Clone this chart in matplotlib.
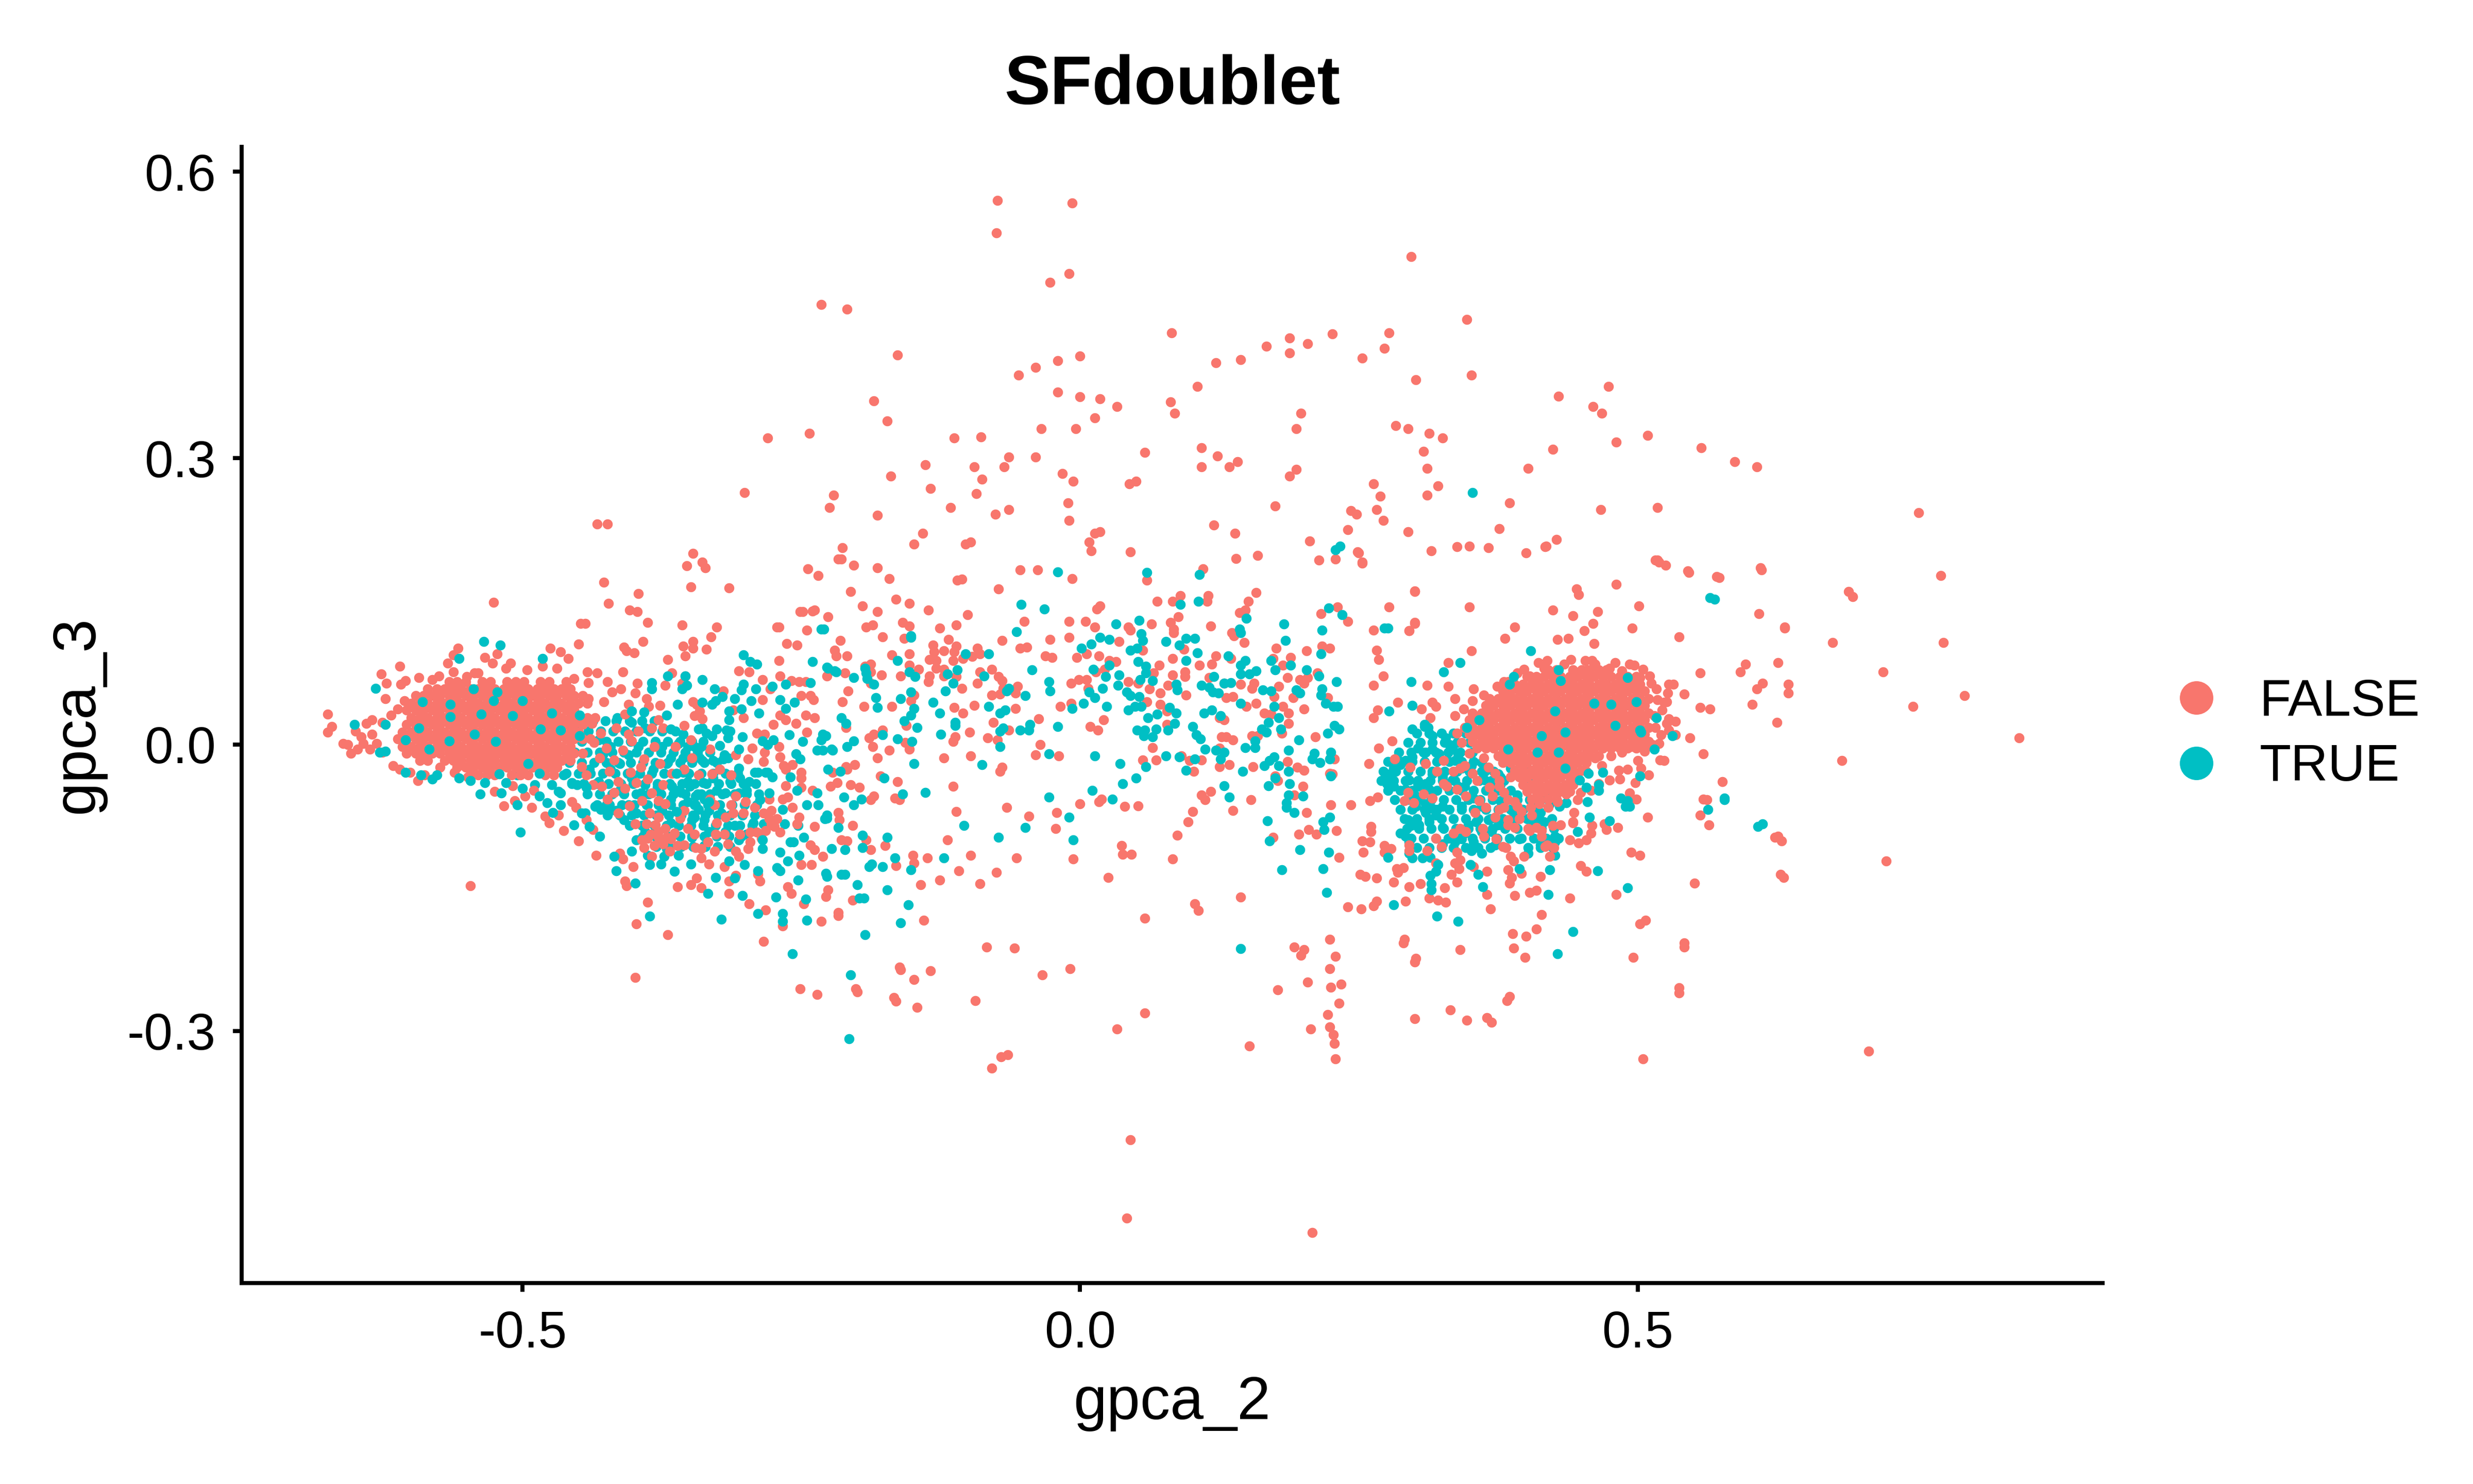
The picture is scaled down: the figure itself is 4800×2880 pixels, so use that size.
import matplotlib
matplotlib.use('Agg')
import matplotlib.pyplot as plt
from matplotlib.lines import Line2D

plt.rcParams['font.family'] = ['Liberation Sans', 'DejaVu Sans']
plt.rcParams['axes.unicode_minus'] = False

# colours and labels
false_color = '#F8766D'
true_color = '#00BFC4'
title = 'SFdoublet'
x_label = 'gpca_2'
y_label = 'gpca_3'
x_ticks = [-0.5, 0.0, 0.5]
y_ticks = [-0.3, 0.0, 0.3, 0.6]
legend_labels = ['FALSE', 'TRUE']

# --- points ---
# sparse FALSE points above the main band
false_upper = [(-.074,.570),(-.007,.567),(-.075,.536),(.297,.511),(-.027,.484),(-.010,.493),(-.232,.461),(-.209,.456),
    (.347,.445),(.082,.431),(.226,.430),(.277,.431),(.167,.417),(.188,.426),(.188,.410),(.204,.420),(-.164,.408),(0,.407),
    (-.020,.402),(.253,.405),(.122,.400),(.144,.403),(.273,.415),(-.040,.395),(-.055,.387),(.351,.387),(.105,.375),(.301,.382),
    (-.020,.369),(0,.364),(.018,.362),(.033,.354),(.081,.359),(.085,.347),(-.185,.360),(-.173,.339),(.198,.347),(.194,.331),
    (.429,.365),(.474,.375),(.460,.354),(.468,.347),(-.280,.321),(-.243,.326),(-.113,.321),(-.089,.322),(.013,.342),(-.004,.331),
    (-.035,.331),(.283,.334),(.294,.331),(.313,.326),(.325,.321),(.509,.324),(.481,.317),(.424,.309),(.557,.311),(.587,.296),
    (.607,.291),(-.064,.301),(-.095,.291),(-.139,.293),(-.040,.301),(.058,.306),(.109,.311),(.123,.302),(.134,.291),(.109,.291),
    (.141,.296),(.194,.288),(.188,.281),(.308,.307),(.311,.289),(.402,.289),(-.170,.281),(-.134,.268),(-.088,.278),(-.068,.291),
    (-.016,.284),(-.006,.276),(.044,.273),(.050,.276),(.263,.273),(.269,.260),(.311,.261),(.321,.271),(-.301,.264),(-.221,.261),
    (-.225,.248),(-.093,.263),(-.064,.246),(-.076,.241),(-.116,.248),(-.011,.253),(-.010,.235),(.175,.250),(.243,.245),(.266,.246),
    (.272,.235),(.385,.253),(.467,.246),(.518,.248),(.752,.243),(-.433,.231),(-.424,.231),(-.141,.221),(-.182,.240),(-.098,.212),
    (.013,.221),(.018,.223),(.008,.212),(.120,.230),(.139,.221),(.248,.241),(.240,.225),(.376,.226),(.427,.215),(.294,.223),
    (.315,.203),(.349,.208),(.417,.207),(.611,.183),(.518,.193),(.525,.188),(.772,.177),(.546,.180),(.573,.175),(.693,.155),(.689,.160)]

# band between y 0.12 and 0.21
false_high_band = [(-.213,.206),(-.217,.194),(-.214,.194),(-.203,.188),(-.182,.185),(-.244,.184),(-.235,.177),(-.171,.174),
    (-.206,.160),(-.149,.210),(-.103,.210),(.010,.203),(.045,.202),(.140,.195),(.159,.198),(.206,.213),(.249,.202),(.253,.191),
    (.214,.193),(.229,.194),(-.054,.183),(-.038,.183),(-.007,.174),(-.110,.172),(-.106,.173),(-.073,.163),(.060,.172),(.110,.184),
    (.115,.156),(.114,.150),(.090,.156),(.083,.150),(.069,.150),(.158,.159),(.151,.150),(.300,.161),(.277,.144),(.231,.144),
    (.148,.141),(.143,.138),(.088,.134),(.018,.145),(.015,.142),(-.101,.136),(-.136,.141),(-.153,.148),(-.165,.152),(-.182,.139),
    (-.195,.145),(-.238,.141),(-.249,.139),(-.226,.134),(.216,.137),(.240,.129),(.300,.128),(.295,.119),(.263,.120),(-.270,.123),
    (-.245,.120),(-.192,.123),(-.186,.125),(-.159,.128),(-.153,.124),(-.126,.122),(-.111,.125),(-.050,.129),(-.010,.129),(.005,.129),
    (.013,.123),(.043,.123),(.045,.120),(.064,.126),(.081,.128),(.084,.121),(.084,.117),(.117,.124),(.136,.117),
    (-.347,.200),(-.339,.191),(-.353,.187),(-.336,.185),(-.427,.170),(-.349,.165),(-.315,.164),(-.396,.158),(-.423,.148),(-.526,.149),
    (-.404,.141),(-.397,.139),(-.251,.139),(-.240,.140),(-.388,.128),(-.448,.127),(-.444,.127),(-.357,.125),(-.326,.123),(-.272,.123),
    (-.331,.113),(-.392,.108),(-.347,.108),(-.263,.106),(-.254,.104),(-.450,.105),(-.356,.103),(-.347,.101),(-.335,.100),(-.409,.102),
    (-.407,.098),(-.400,.096),(-.475,.101),(-.466,.097),(-.459,.090),(-.354,.093),(-.370,.089),(-.270,.088),(-.558,.101),(-.562,.094),
    (-.523,.095),(-.534,.091),(-.567,.085),(-.527,.085),(-.610,.082),(-.627,.074),(-.622,.064),(-.623,.048),(-.306,.077),(-.297,.076),
    (-.410,.076),(-.366,.075),(-.354,.072),(-.285,.068),(-.269,.072),(-.259,.067),(-.252,.066),(-.246,.066),(-.397,.064),(-.372,.062),
    (-.357,.064),(-.320,.056),(-.278,.058),(-.399,.054),(-.250,.051),(-.242,.051),(-.239,.047),(-.285,.047),(-.377,.041),(-.347,.045),
    (-.344,.042),(-.341,.035),(-.311,.036),(-.302,.028),(-.346,.030),(-.339,.027),(-.246,.031),(-.238,.028),(-.269,.031),(-.264,.026),
    (-.275,.021),(-.255,.022),(-.245,.013),(-.290,.012),(-.283,.011),(-.355,.020),(-.270,-.002),(-.294,-.004),(-.269,-.013),(-.283,-.008),
    (-.284,-.018),(-.309,-.011),(-.298,-.015),(-.266,-.022),(-.258,-.021),(-.264,-.026),(-.250,-.029),(-.250,-.035),(-.264,-.043),(-.250,-.045),
    (-.267,-.057),(-.262,-.055),(-.240,-.048),(-.258,-.066),(-.252,-.076),(-.254,-.083),(-.238,-.086),(-.242,-.105),(-.238,-.110),(-.231,-.117),
    (-.250,-.126),(-.241,-.126),(-.262,-.149),(-.259,-.156),(-.248,-.167),(-.217,-.176),(-.232,-.185),(-.267,-.190),(-.282,-.173),(-.297,-.167),
    (-.315,-.156),(-.340,-.150),(-.349,-.147),(-.344,-.140),(-.361,-.149),(-.287,-.143),(-.289,-.136),(-.315,-.143),(-.319,-.128),(-.309,-.137),
    (-.333,-.125),(-.401,-.128),(-.408,-.143),(-.407,-.148),(-.434,-.116),(-.413,-.114),(-.410,-.120),(-.450,-.101),(-.463,-.090),(-.476,-.082),
    (-.480,-.075),(-.468,-.074),(-.492,-.066),(-.517,-.064),(-.547,-.148),(-.388,-.165),(-.398,-.188),(-.370,-.199),(-.284,-.206),(-.399,-.244),
    (-.251,-.256)]

# edge of the left blob and pink inside the teal part
false_left_edge = [(-.675,.032),(-.671,.019),(-.675,.013),(-.661,.001),(-.657,.000),(-.654,-.009),(-.648,-.005),(-.643,.001),(-.637,-.005),(-.631,.001),
    (-.650,.014),(-.645,.008),(-.635,.011),(-.640,.022),(-.635,.026),(-.626,.023),(-.618,.031),(-.612,.037),(-.606,.046),(-.609,.063),
    (-.605,.067),(-.593,.070),(-.581,.068),(-.575,.072),(-.562,.076),(-.550,.071),(-.543,.075),(-.540,.075),(-.511,.085),(-.515,.080),
    (-.496,.078),(-.482,.082),(-.469,.080),(-.442,.076),(-.433,.075),(-.454,.069),(-.441,.065),(-.424,.066),(-.420,.055),(-.412,.058),
    (-.427,.045),(-.441,.048),(-.405,.042),(-.389,.048),(-.387,.040),(-.408,.032),(-.378,.026),(-.384,.017),(-.405,.011),(-.416,.017),
    (-.626,-.008),(-.616,-.022),(-.610,-.026),(-.601,-.029),(-.594,-.038),(-.588,-.032),(-.561,-.029),(-.549,-.034),(-.525,-.049),(-.509,-.043),
    (-.507,-.059),(-.498,-.054),(-.490,-.048),(-.456,-.060),(-.452,-.066),(-.443,-.079),(-.437,-.089),
    (-.447,-.023),(-.443,-.032),(-.437,-.042),(-.424,-.057),(-.414,-.039),(-.403,-.029),(-.391,-.015),(-.382,-.002),(-.374,.017),(-.363,-.002),
    (-.349,.005),(-.348,-.014),(-.332,-.005),(-.323,-.026),(-.313,-.032),(-.330,-.031),(-.342,-.032),(-.355,-.026),(-.374,-.042),(-.384,-.051),
    (-.393,-.059),(-.378,-.059),(-.372,-.062),(-.355,-.069),(-.359,-.077),(-.378,-.076),(-.389,-.083),(-.399,-.083),(-.378,-.091),(-.393,-.100),
    (-.391,-.108),(-.378,-.097),(-.367,-.099),(-.361,-.106),(-.355,-.105),(-.346,-.094),(-.327,-.094),(-.319,-.094),(-.328,-.112),(-.340,-.119),
    (-.368,-.112),(-.384,-.117),(-.340,-.109),(-.313,-.063),(-.302,-.072),(-.296,-.092),(-.290,-.092),(-.277,-.069),(-.277,-.083),(-.298,-.109),
    (-.309,-.112),(-.306,-.117),(-.328,-.063),(-.332,-.057),(-.311,-.072),(-.279,-.057),(-.269,-.092),
    # more pink in the dense tail
    (-.438,.022),(-.430,.012),(-.436,.002),(-.425,-.004),(-.431,-.014),(-.418,-.016),(-.422,-.028),(-.410,-.006),(-.402,.004),(-.396,.014),
    (-.394,-.024),(-.408,-.046),(-.398,-.040),(-.418,-.050),(-.429,-.044),(-.404,-.064),(-.414,-.072),(-.388,-.036),(-.377,-.020),(-.366,-.030),
    (-.386,-.072),(-.381,-.084),(-.372,-.088),(-.385,-.094),(-.374,-.104),(-.382,-.106),(-.388,-.098),(-.371,-.097),(-.364,-.093),(-.352,-.088),
    (-.345,-.108),(-.334,-.102),(-.326,-.082),(-.318,-.076),(-.309,-.054),(-.300,-.060),(-.292,-.066),(-.284,-.072),(-.279,-.078),(-.274,-.086),
    (-.282,-.090),(-.272,-.078),(-.286,-.098),(-.296,-.102),(-.305,-.094),(-.316,-.104)]

# centre band, left to right
false_center = [(-.215,.109),(-.177,.113),(-.158,.111),(-.132,.104),(-.118,.110),(-.111,.103),(-.070,.109),(-.054,.101),(-.048,.102),(-.027,.110),
    (-.010,.112),(.035,.108),(.056,.099),(.093,.100),(.138,.114),(.147,.107),(.176,.101),(.203,.098),(.217,.103),(.224,.101),(-.220,.099),(-.219,.093),
    (-.209,.093),(-.169,.094),(-.153,.095),(-.131,.097),(-.122,.098),(-.113,.097),(-.129,.088),(-.135,.089),(-.114,.088),(-.105,.090),(-.097,.092),
    (-.092,.101),(-.090,.095),(-.031,.093),(-.025,.091),(-.003,.091),(.006,.095),(.017,.093),(.026,.088),(.032,.087),(.083,.090),(.071,.083),(.107,.083),
    (.118,.084),(.122,.093),(.135,.090),(.182,.083),(.189,.091),(.173,.090),(-.145,.079),(-.153,.083),(-.161,.072),(-.178,.073),(-.188,.084),(-.193,.082),
    (-.188,.076),(-.211,.075),(-.227,.072),(-.129,.080),(-.135,.072),(-.122,.072),(-.111,.071),(-.122,.079),(-.136,.066),(-.079,.079),(-.090,.076),
    (-.073,.071),(-.070,.067),(-.092,.064),(-.106,.059),(-.056,.061),(-.058,.054),(-.079,.052),(-.072,.053),(-.069,.059),(-.208,.056),(-.213,.045),
    (-.194,.040),(-.169,.040),(-.152,.046),(-.149,.052),(-.188,.064),(-.113,.039),(-.105,.033),(-.095,.041),(-.058,.038),(-.078,.023),(-.037,.027),
    (-.018,.040),(-.008,.043),(-.008,.064),(-.001,.068),(.006,.068),(.007,.059),(.014,.076),(.022,.079),(.043,.066),(.052,.064),(.062,.058),(.060,.045),
    (.066,.075),(.079,.062),(.083,.073),(.072,.054),(.072,.042),(.078,.035),(.094,.076),(.094,.071),(.095,.052),(.078,.021),(.021,.026),(.009,.019),
    (.016,.015),(.116,.070),(.129,.064),(.131,.049),(.137,.050),(.144,.063),(.154,.059),(.156,.064),(.158,.043),(.149,.040),(.125,.028),(.129,.026),
    (.165,.033),(.171,.032),(.174,.050),(.178,.061),(.186,.070),(.197,.068),(.201,.064),(.204,.070),(.191,.049),(.182,.040),(.187,.033),(.201,.037),
    (.187,.022),(.213,.075),(.222,.049),(.211,.008),(.181,.012),(.154,.009),(.159,.009),(.127,.008),(.131,.008),(.137,.005),(.125,-.004),(.065,-.003),
    (.056,-.016),(.068,-.016),(.091,-.012),(.098,-.017),(.109,-.016),(.102,-.028),(.125,-.023),(.134,-.021),(.155,-.023),(.186,-.018),(.195,-.024),
    (.201,-.027),(.228,-.015),(.224,-.030),(.226,-.031),(.175,-.033),(.177,-.038),(.200,-.044),(.192,-.053),(.153,-.058),(.109,-.053),(.117,-.049),
    (.112,-.058),(.137,-.069),(.101,-.070),(.097,-.081),(.087,-.095),(.203,-.071),(.225,-.063),(.205,-.089),(.196,-.094),(.212,-.094),(.230,-.090),
    (.173,-.097),(.232,-.118),(.083,-.120),(.052,-.064),(.040,-.065),(.019,-.057),(.017,-.060),(0,-.062),(-.021,-.071),(-.022,-.088),(-.046,-.075),
    (-.066,-.066),(-.111,-.070),(-.114,-.044),(-.162,-.058),(-.166,-.056),(-.185,-.054),(-.188,-.058),(-.164,-.039),(-.179,-.033),(-.198,-.045),
    (-.206,-.042),(-.218,-.040),(-.224,-.044),(-.202,-.021),(-.210,-.023),(-.209,-.026),(-.222,-.029),(-.182,-.014),(-.171,-.006),(-.186,-.002),
    (-.189,.007),(-.185,.011),(-.177,.015),(-.210,.018),(-.157,.002),(-.153,-.005),(-.122,-.014),(-.098,-.012),(-.072,-.028),(-.070,-.024),(-.040,-.011),
    (-.036,0),(-.019,-.012),(-.064,.015),(-.074,.005),(-.083,.007),(-.099,.013),(-.112,.008),(-.114,.003),(-.156,.020),(-.217,-.071),(-.216,-.079),
    (-.204,-.085),(-.214,-.100),(-.209,-.101),(-.192,-.100),(-.188,-.110),(-.175,-.106),(-.150,-.116),(-.149,-.124),(-.165,-.127),(-.137,-.119),
    (-.119,-.100),(-.098,-.116),(-.109,-.132),(-.126,-.142),(-.143,-.147),(-.090,-.146),(-.075,-.134),(-.057,-.119),(-.006,-.120),(.037,-.106),(.038,-.115),
    (.046,-.115),(.025,-.139),(.144,-.160),(.103,-.167),(.106,-.174),(.058,-.182),(-.226,-.152),(-.228,-.159),(-.204,-.163),(-.217,-.179),(-.140,-.184)]

# lower sparse points
false_lower = [(-.084,-.212),(-.059,-.213),(-.034,-.241),(-.009,-.235),(.192,-.212),(.201,-.215),(.198,-.221),(.224,-.204),(.229,-.222),(.224,-.235),
    (.290,-.208),(.300,-.228),(.204,-.249),(.177,-.257),(.225,-.254),(.234,-.251),(.232,-.271),(.222,-.283),(.207,-.298),(.224,-.296),(.227,-.304),
    (.228,-.313),(.229,-.329),(.152,-.316),(.300,-.287),(.058,-.281),(.033,-.298),(-.065,-.325),(-.071,-.327),(-.079,-.339),(.045,-.414),(.042,-.496),
    (.208,-.511),(-.161,-.236),(-.134,-.237),(-.149,-.246),(-.200,-.259),(-.165,-.269),(-.146,-.275),(-.094,-.268),(-.201,-.256),(-.167,-.265),
    (.332,-.278),(.347,-.289),(.365,-.286),(.369,-.291),(.383,-.268),(.707,-.321),(.505,-.329),(-.162,-.233),(-.236,-.262)]

# right side, around the right blob
false_right = [(.250,.201),(.253,.190),(.338,.207),(.366,.206),(.400,.201),(.418,.208),(.516,.193),(.519,.191),(.545,.182),(.571,.176),(.610,.185),
    (.300,.160),(.481,.168),(.445,.163),(.447,.157),(.349,.144),(.424,.141),(.442,.135),(.464,.139),(.501,.145),(.609,.137),(.300,.127),(.295,.119),
    (.460,.127),(.390,.123),(.452,.119),(.495,.122),(.632,.123),(.537,.113),(.381,.111),(.428,.110),(.438,.111),(.461,.106),(.351,.098),(.266,.099),
    (.268,.089),(.330,.086),(.626,.086),(.592,.076),(.556,.075),(.411,.086),(.419,.088),(.440,.089),(.453,.088),(.459,.088),(.493,.084),(.272,.072),
    (.263,.062),(.311,.062),(.330,.061),(.353,.058),(.607,.058),(.635,.054),(.542,.053),(.528,.063),(.532,.063),(.527,.054),(.526,.045),(.603,.042),
    (.556,.039),(.565,.037),(.336,.048),(.285,.044),(.316,.044),(.319,.040),(.306,.037),(.267,.036),(.263,.028),(.625,.023),(.534,.024),(.528,.027),
    (.534,.010),(.547,.007),(.519,.001),(.314,.028),(.280,.004),(.268,-.004),(.559,-.010),(.520,-.016),(.524,-.017),(.259,-.020),(.296,-.024),(.282,-.015),
    (.576,-.039),(.498,-.040),(.559,-.057),(.493,-.051),(.499,-.057),(.243,-.063),(.260,-.059),(.267,-.055),(.509,-.076),(.564,-.084),(.261,-.091),
    (.261,-.086),(.253,-.101),(.260,-.102),(.254,-.113),(.273,-.106),(.279,-.109),(.273,-.113),(.470,-.083),(.472,-.089),(.482,-.087),(.459,-.085),
    (.458,-.093),(.439,-.100),(.447,-.103),(.454,-.100),(.442,-.082),(.494,-.113),(.502,-.116),(.623,-.097),(.626,-.096),(.628,-.136),(.551,-.145),
    (.449,-.127),(.454,-.133),(.421,-.117),(.419,-.105),(.413,-.138),(.409,-.153),(.403,-.155),(.439,-.161),(.390,-.158),(.365,-.157),(.385,-.145),
    (.387,-.139),(.384,-.131),(.386,-.117),(.389,-.122),(.398,-.117),(.396,-.135),(.365,-.133),(.340,-.130),(.333,-.136),(.338,-.144),(.353,-.128),
    (.327,-.150),(.305,-.146),(.295,-.149),(.281,-.144),(.284,-.130),(.290,-.129),(.285,-.134),(.266,-.140),(.251,-.136),(.256,-.138),(.292,-.164),
    (.313,-.161),(.321,-.163),(.328,-.165),(.263,-.169),(.266,-.164),(.240,-.170),(.252,-.172),(.368,-.172),(.414,-.178),(.507,-.184),(.409,-.193),
    (.388,-.198),(.400,-.201),(.291,-.204),(.542,-.208),(.341,-.215),(.389,-.213),(.301,-.224),(.399,-.223),(.537,-.255),(.385,-.264),
    (.842,.007),(.793,.051),(.774,.107),(.747,.040),(.720,.076),(.675,.107),(.632,.122),(.597,.084),(.612,.064),(.635,.063),(.683,-.017),(.723,-.122),
    (.629,-.101),(.631,-.139),(.542,-.212),(.537,-.260),(.502,-.188),(.496,-.223),(.481,-.157),(.562,-.058),(.556,-.074),
    (.518,.047),(.524,.044),(.512,.064),(.516,.018),(.521,.010),(.528,.015),(.513,0),(.506,-.007),(.500,-.017),(.503,-.025),(.510,-.032),(.484,-.036),
    (.491,-.026),(.483,-.027),(.475,-.037),(.465,-.041),(.449,-.050),(.443,-.071),(.442,-.081),(.431,-.084),(.424,-.085),(.409,-.087),(.403,-.090),
    (.390,-.087),(.384,-.084),(.382,.043),(.368,.044),(.380,.066),(.384,.066),(.384,.053),(.403,.072),(.412,.069),(.425,.076),(.442,.077),(.455,.078),
    (.475,.080),(.486,.077),(.502,.070),
    (.326,-.041),(.338,-.047),(.346,-.054),(.358,-.059),(.367,-.045),(.376,-.044),(.294,-.050),(.299,-.061),(.291,-.059),(.329,-.044),(.341,-.025),
    (.345,-.022),(.335,-.028),(.326,-.017),(.341,-.088),(.335,-.093),(.346,-.091),(.361,-.088),(.354,-.071),(.376,-.068),(.384,-.079),(.392,-.065),
    (.402,-.088),(.405,-.074),(.414,-.090),(.373,-.099),(.379,-.107),(.324,-.107),(.319,-.098),(.311,-.111),(.295,-.105),(.295,-.111),(.338,-.113),
    (.336,-.124),(.341,-.121),(.319,-.124),(.382,-.108),(.417,-.107),(.425,-.108),(.414,-.096),(.362,-.096),
    # fringe of the blob and pink over the teal part
    (.517,.058),(.522,.036),(.515,.030),(.526,.022),(.511,.072),(.505,.079),(.497,.083),(.480,.086),(.462,.084),(.434,.084),(.416,.080),(.398,.079),
    (.392,.075),(.374,.061),(.362,.052),(.352,.046),(.344,.037),(.336,.030),(.338,.012),(.342,.002),(.349,-.009),(.362,-.014),(.366,-.024),(.372,-.030),
    (.376,-.038),(.380,-.050),(.384,-.058),(.390,-.060),(.396,-.070),(.404,-.066),(.412,-.062),(.420,-.066),(.428,-.060),(.436,-.052),(.446,-.058),
    (.458,-.048),(.468,-.022),(.476,-.012),(.486,-.008),(.494,-.002),(.462,-.014),(.454,-.028),(.370,-.054),(.364,-.066),(.372,-.076),(.394,-.078),
    (.380,-.066),(.356,-.038),(.352,-.030),(.320,-.028),(.310,-.020),(.316,-.056),(.308,-.052)]

# FALSE blob on the left, one row of x values per y value
left_blob_y = [.066, .058, .051, .043, .036, .028, .021, .013, .006, -.002, -.009, -.017, -.024, -.032]
left_blob_x = [
    [-.566,-.559,-.551,-.536,-.529,-.514,-.506,-.499,-.484,-.476,-.461],
    [-.585,-.577,-.570,-.562,-.555,-.547,-.540,-.532,-.525,-.517,-.510,-.502,-.495,-.487,-.480,-.472,-.465,-.457],
    [-.596,-.589,-.581,-.574,-.566,-.559,-.551,-.544,-.536,-.529,-.521,-.514,-.506,-.499,-.491,-.484,-.476,-.469,-.461,-.454,-.446],
    [-.600,-.592,-.585,-.577,-.570,-.562,-.555,-.547,-.540,-.532,-.525,-.517,-.510,-.502,-.495,-.487,-.480,-.472,-.465,-.457,-.450,-.442],
    [-.604,-.596,-.589,-.581,-.574,-.566,-.559,-.551,-.544,-.536,-.529,-.521,-.514,-.506,-.499,-.491,-.484,-.476,-.469,-.461,-.454],
    [-.600,-.592,-.585,-.577,-.570,-.562,-.555,-.547,-.540,-.532,-.525,-.517,-.510,-.502,-.495,-.487,-.480,-.472,-.465,-.457,-.450,-.442,-.435],
    [-.604,-.596,-.589,-.581,-.574,-.566,-.559,-.551,-.544,-.536,-.529,-.521,-.514,-.506,-.499,-.491,-.484,-.476,-.469,-.461,-.454,-.446],
    [-.608,-.600,-.592,-.585,-.577,-.570,-.562,-.555,-.547,-.540,-.532,-.525,-.517,-.510,-.502,-.495,-.487,-.480,-.472,-.465,-.457,-.450],
    [-.612,-.604,-.596,-.589,-.581,-.574,-.566,-.559,-.551,-.544,-.536,-.529,-.521,-.514,-.506,-.499,-.491,-.484,-.476,-.469,-.461,-.454,-.446,-.439],
    [-.608,-.600,-.592,-.585,-.577,-.570,-.562,-.555,-.547,-.540,-.532,-.525,-.517,-.510,-.502,-.495,-.487,-.480,-.472,-.465,-.457],
    [-.604,-.596,-.589,-.581,-.574,-.566,-.559,-.551,-.544,-.536,-.529,-.521,-.514,-.506,-.499,-.491,-.484,-.476,-.469,-.461,-.454,-.446],
    [-.592,-.585,-.570,-.562,-.555,-.547,-.540,-.532,-.525,-.517,-.510,-.502,-.495,-.487,-.480,-.472,-.465,-.457],
    [-.574,-.559,-.551,-.544,-.536,-.529,-.521,-.514,-.506,-.499,-.491,-.484,-.476,-.469],
    [-.547,-.540,-.532,-.525,-.510,-.502,-.495,-.480,-.472],
]

# FALSE blob on the right, same layout
right_blob_y = [.078, .071, .063, .056, .048, .041, .033, .026, .018, .011, .003, -.004, -.012, -.019, -.027, -.034, -.042, -.049, -.057]
right_blob_x = [
    [.420,.427,.442,.450,.457,.465,.472],
    [.401,.409,.416,.424,.431,.439,.446,.454,.461,.469,.476,.484,.491,.499],
    [.390,.397,.405,.412,.420,.427,.435,.442,.450,.457,.465,.472,.480,.487,.495,.502],
    [.379,.386,.394,.401,.409,.416,.424,.431,.439,.446,.454,.461,.469,.476,.484,.491,.499,.506],
    [.367,.375,.382,.390,.397,.405,.412,.420,.427,.435,.442,.450,.457,.465,.472,.480,.487,.495,.502,.510],
    [.364,.371,.379,.386,.394,.401,.409,.416,.424,.431,.439,.446,.454,.461,.469,.476,.484,.491,.499,.506],
    [.352,.360,.367,.375,.382,.390,.397,.405,.412,.420,.427,.435,.442,.450,.457,.465,.472,.480,.487,.495,.502,.510],
    [.349,.356,.364,.371,.379,.386,.394,.401,.409,.416,.424,.431,.439,.446,.454,.461,.469,.476,.484,.491,.499,.506],
    [.345,.352,.360,.367,.375,.382,.390,.397,.405,.412,.420,.427,.435,.442,.450,.457,.465,.472,.480,.487,.495,.502,.510],
    [.349,.356,.364,.371,.379,.386,.394,.401,.409,.416,.424,.431,.439,.446,.454,.461,.469,.476,.484,.491,.499,.506],
    [.352,.360,.367,.375,.382,.390,.397,.405,.412,.420,.427,.435,.442,.450,.457,.465,.472,.480,.487,.495,.502,.510],
    [.356,.364,.371,.379,.386,.394,.401,.409,.416,.424,.431,.439,.446,.454,.461,.469,.476,.484,.491,.499,.506],
    [.375,.382,.390,.397,.405,.412,.420,.427,.435,.442,.450,.457,.465],
    [.379,.386,.394,.401,.409,.416,.424,.431,.439,.446,.454],
    [.390,.397,.405,.412,.420,.427,.435,.442,.450],
    [.386,.394,.401,.409,.416,.424,.431,.439,.446],
    [.397,.405,.412,.420,.427,.435,.442],
    [.401,.409,.416,.424,.431,.439],
    [.405,.412,.420,.427],
]

# dense teal under the pink, left tail, one row of x values per y value
left_teal_y = [.025, .014, .003, -.008, -.019, -.030, -.041, -.052, -.063, -.074, -.085, -.096, -.107]
left_teal_x = [
    [-.448,-.437,-.426,-.416,-.404,-.393,-.382],
    [-.452,-.441,-.430,-.419,-.408,-.398,-.386,-.375,-.363],
    [-.447,-.436,-.425,-.414,-.403,-.392,-.381,-.370,-.359,-.348,-.338],
    [-.453,-.442,-.431,-.420,-.409,-.398,-.387,-.376,-.365,-.354,-.343,-.332],
    [-.458,-.447,-.436,-.425,-.414,-.403,-.392,-.381,-.370,-.359,-.348,-.337,-.326],
    [-.461,-.450,-.439,-.428,-.417,-.406,-.395,-.384,-.373,-.362,-.351,-.340,-.329,-.318,-.307],
    [-.456,-.445,-.434,-.423,-.412,-.401,-.390,-.379,-.368,-.357,-.346,-.335,-.324,-.313,-.302,-.291],
    [-.442,-.431,-.420,-.409,-.398,-.387,-.376,-.365,-.354,-.343,-.332,-.321,-.310,-.299,-.288],
    [-.433,-.422,-.411,-.400,-.389,-.378,-.367,-.356,-.345,-.334,-.323,-.312,-.301,-.290],
    [-.424,-.413,-.402,-.391,-.380,-.369,-.358,-.347,-.336,-.325,-.314,-.303,-.292],
    [-.404,-.393,-.382,-.371,-.360,-.349,-.338,-.327,-.316,-.305,-.294],
    [-.392,-.381,-.370,-.359,-.348,-.337,-.326,-.315,-.304],
    [-.380,-.369,-.358,-.347,-.336,-.325,-.314],
]

# dense teal under the pink, right cluster
right_teal_y = [.012, .002, -.008, -.018, -.028, -.038, -.048, -.058, -.068, -.078, -.088, -.098, -.108]
right_teal_x = [
    [.302,.313,.324,.335,.346,.357],
    [.294,.305,.316,.327,.338,.349],
    [.286,.297,.308,.319,.330,.341,.352],
    [.276,.287,.298,.309,.320,.331,.342,.353],
    [.272,.283,.294,.305,.316,.327,.338,.349,.360,.371],
    [.270,.281,.292,.303,.314,.325,.336,.347,.358,.369,.380],
    [.276,.287,.298,.309,.320,.331,.342,.353,.364,.375,.386],
    [.282,.293,.304,.315,.326,.337,.348,.359,.370,.381,.392,.403],
    [.287,.298,.309,.320,.331,.342,.353,.364,.375,.386,.397,.408],
    [.291,.302,.313,.324,.335,.346,.357,.368,.379,.390,.401,.412,.423],
    [.293,.304,.315,.326,.337,.348,.359,.370,.381,.392,.403,.414,.425],
    [.297,.308,.319,.330,.341,.352,.363,.374,.385,.396,.407,.418,.429],
    [.302,.313,.324,.335,.346,.357,.368,.402,.413,.424],
]

# TRUE points hidden partly by the FALSE layer
true_left_cluster = [(-.432,.005),(-.421,-.002),(-.428,-.011),(-.440,-.026),(-.432,-.039),(-.421,-.026),(-.413,-.020),(-.405,-.011),(-.396,-.002),(-.390,.017),
    (-.402,.023),(-.415,.028),(-.375,-.002),(-.371,-.020),(-.360,.001),(-.356,-.014),(-.383,-.026),(-.390,-.042),(-.402,-.035),(-.413,-.048),(-.425,-.063),
    (-.421,-.069),(-.405,-.063),(-.409,-.079),(-.398,-.072),(-.388,-.063),(-.375,-.069),(-.367,-.057),(-.360,-.048),(-.352,-.039),(-.356,-.029),(-.345,-.054),
    (-.346,-.063),(-.337,-.057),(-.348,-.079),(-.360,-.085),(-.337,-.079),(-.333,-.069),(-.322,-.072),(-.318,-.051),(-.306,-.051),(-.299,-.048),(-.314,-.039),
    (-.305,-.035),(-.297,-.039),(-.289,-.029),(-.280,-.029),(-.310,-.085),(-.299,-.094),(-.293,-.082),(-.306,-.100),(-.318,-.091),(-.333,-.091),(-.348,-.097),
    (-.337,-.106),(-.390,-.091),(-.398,-.100),(-.402,-.112),(-.388,-.116),(-.373,-.117),(-.360,-.116),(-.371,-.109),(-.367,-.082),(-.284,-.083),(-.265,-.083),
    (-.253,-.085),(-.257,-.102),(-.416,-.069),(-.430,-.068),(-.444,-.072),(-.466,-.051),(-.451,-.042),(-.463,-.032),(-.474,-.042),(-.489,-.042),(-.505,-.032),
    (-.394,-.051),(-.379,-.045),(-.329,-.035),(-.339,-.017),(-.352,-.002),(-.346,-.002),(-.341,-.014),(-.329,-.017),(-.316,-.014),(-.367,-.014),(-.356,.011),(-.339,.017)]

true_right_cluster = [(.275,-.031),(.281,-.025),(.287,-.021),(.292,-.017),(.298,-.013),(.303,-.004),(.310,-.008),(.316,-.005),(.322,-.010),(.331,0),(.328,.007),(.316,.009),
    (.312,.018),(.309,.019),(.334,-.004),(.339,-.010),(.336,-.017),(.342,-.025),(.351,-.022),(.360,-.019),(.363,-.028),(.369,-.041),(.363,-.037),(.375,-.031),(.377,-.042),
    (.334,-.037),(.339,-.044),(.345,-.044),(.325,-.034),(.316,-.031),(.310,-.041),(.313,-.047),(.304,-.044),(.295,-.037),(.303,-.041),(.281,-.044),(.278,-.034),(.275,-.041),
    (.292,-.047),(.300,-.053),(.304,-.056),(.310,-.062),(.316,-.067),(.325,-.065),(.319,-.074),(.310,-.071),(.301,-.065),(.313,-.081),(.304,-.084),(.297,-.085),(.294,-.079),
    (.287,-.093),(.292,-.096),(.295,-.102),(.295,-.114),(.298,-.119),(.307,-.119),(.314,-.118),(.325,-.104),(.336,-.102),(.342,-.099),(.353,-.102),(.351,-.111),(.360,-.114),
    (.372,-.105),(.366,-.079),(.375,-.084),(.355,-.081),(.348,-.084),(.325,-.087),(.345,-.093),(.360,-.091),(.369,-.091),(.389,-.071),(.404,-.059),(.413,-.071),(.421,-.062),
    (.430,-.065),(.436,-.061),(.418,-.056),(.410,-.077),(.416,-.081),(.405,-.084),(.394,-.099),(.426,-.096),(.426,-.102),(.416,-.098),(.413,-.105),(.402,-.114),(.426,-.116),
    (.342,-.065),(.353,-.056),(.360,-.065),(.377,-.059),(.392,-.053),(.404,-.041),(.410,-.053),(.377,-.034),(.386,-.025),(.398,-.022)]

# TRUE points on top
true_left = [(-.535,.108),(-.520,.104),(-.557,.090),(-.482,.090),(-.632,.059),(-.651,.021),(-.623,.021),(-.232,.121),(-.302,.094),(-.296,.087),(-.290,.084),(-.240,.087),
    (-.227,.081),(-.220,.077),(-.354,.072),(-.339,.068),(-.370,.072),(-.353,.062),(-.357,.058),(-.384,.065),(-.384,.058),(-.328,.058),(-.302,.063),(-.304,.057),(-.291,.058),
    (-.276,.061),(-.264,.063),(-.242,.065),(-.269,.047),(-.256,.044),(-.264,.038),(-.310,.048),(-.295,.046),(-.321,.050),(-.327,.046),(-.330,.042),(-.339,.044),(-.361,.042),
    (-.288,.033),(-.304,.037),(-.315,.035),(-.315,.026),(-.371,.031),(-.391,.034),(-.402,.035),(-.342,.016),(-.335,.012),(-.330,.009),(-.326,.016),(-.317,.015),(-.314,.014),
    (-.303,.008),(-.316,.007),(-.323,-.001),(-.367,.016),(-.261,.010),(-.249,.003),(-.231,.011),(-.232,.005),(-.285,.004),(-.275,.005),(-.280,0),(-.236,-.006),(-.223,-.005),
    (-.231,-.006),(-.306,-.005),(-.319,-.011),(-.320,-.015),(-.255,-.010),(-.251,-.015),(-.340,-.002),(-.306,-.025),(-.260,-.034),(-.254,-.048),(-.236,-.051),(-.226,-.026),
    (-.292,-.029),(-.282,-.029),(-.276,-.034),(-.245,-.063),(-.235,-.063),(-.287,-.058),(-.279,-.051),(-.267,-.068),(-.227,-.074),(-.229,-.078),(-.269,-.113),(-.252,-.116),
    (-.285,-.109),(-.285,-.100),(-.260,-.102),(-.248,-.097),(-.262,-.122),(-.315,-.122),(-.301,-.126),(-.272,-.129),(-.269,-.132),(-.228,-.135),(-.253,-.142),(-.289,-.132),
    (-.327,-.139),(-.310,-.140),(-.334,-.156),(-.303,-.158),(-.273,-.160),(-.246,-.162),(-.289,-.177),(-.267,-.177),(-.267,-.185),(-.322,-.183),(-.245,-.184),(-.258,-.219),
    (-.386,-.180),(-.399,-.145),(-.416,-.132),(-.418,-.117),(-.386,-.126),(-.376,-.125),(-.364,-.133),(-.349,-.125),(-.502,-.092),(-.538,-.052),(-.454,-.084),(-.440,-.086),(-.431,-.096),
    (-.544,.058),(-.526,.046),(-.590,.045),(-.565,.042),(-.565,.029),(-.537,.032),(-.509,.030),(-.500,.046),(-.474,.033),(-.593,.017),(-.543,.011),(-.566,.004),
    (-.524,.003),(-.584,-.005),(-.466,.015),(-.484,.016),(-.495,-.020),(-.485,-.030),(-.523,.055),(-.605,.005),(-.449,.009),(-.449,.031),
    (-.605,-.029),(-.591,-.032),(-.581,-.036),(-.577,-.032),(-.557,-.035),(-.547,-.038),(-.534,-.040),(-.519,-.051),(-.521,-.031),(-.515,-.040),(-.505,-.063),(-.500,-.046),
    (-.485,-.054),(-.473,-.071),(-.478,-.061),(-.466,-.063),(-.447,-.072),(-.468,-.049),(-.456,-.040),(-.443,-.045),(-.435,-.065),(-.628,-.008),(-.623,-.007),
    (-.362,-.030),(-.350,-.044),(-.340,-.052),(-.352,-.060),(-.342,-.068),(-.333,-.060),(-.326,-.048),(-.362,-.070),(-.346,-.076),(-.358,-.050),(-.366,-.044),(-.338,-.040)]

true_center = [(-.020,.181),(.060,.180),(.107,.178),(.229,.204),(.233,.208),(-.053,.147),(-.032,.142),(.090,.147),(.106,.150),(.149,.132),(.223,.143),(.235,.136),(.183,.126),(.143,.121),(.144,.117),
    (.217,.120),(.273,.122),(.276,.122),(-.230,.121),(-.152,.114),(-.057,.118),(.032,.126),(.053,.130),(.055,.116),(.352,.264),(.569,.152),
    (-.152,.112),(.018,.112),(.026,.110),(.056,.109),(.077,.108),(.095,.111),(.103,.111),(.184,.109),(.010,.105),(.001,.101),(.045,.099),(.051,.101),(.089,.104),(.105,.096),(.095,.088),
    (.133,.093),(.148,.088),(.144,.083),(.171,.088),(.189,.083),(.175,.078),(.216,.095),(-.103,.095),(-.082,.095),(-.164,.088),(-.193,.080),(-.192,.075),(-.191,.069),(-.219,.076),(-.226,.080),
    (-.203,.070),(-.185,.063),(-.153,.076),(-.148,.071),(-.119,.074),(-.110,.078),(-.114,.064),(-.086,.072),(-.043,.078),(-.028,.066),(-.027,.056),(.012,.079),(.026,.083),(.023,.071),(.020,.059),
    (.035,.073),(.034,.062),(.052,.087),(.059,.082),(.059,.075),(.054,.068),(.065,.067),(.042,.055),(.045,.051),(.053,.050),(.008,.055),(.013,.049),(.003,.043),(-.007,.038),(.024,.040),(.043,.036),
    (.049,.040),(.055,.040),(.061,.028),(.069,.032),(.080,.039),(.086,.033),(.086,.063),(.087,.057),(.109,.062),(.116,.060),(.119,.055),(.124,.054),(.120,.071),(.129,.064),(.135,.065),(.144,.074),
    (.152,.074),(.158,.077),(.164,.057),(.171,.056),(.194,.057),(.197,.054),(.214,.072),(.203,.078),(.230,.066),(.217,.058),(.216,.052),(.220,.043),(.227,.040),(.231,.040),(.144,.043),(.174,.040),
    (.111,.033),(.118,.036),(.126,.030),(.169,.023),(.178,.028),(.101,.019),(.104,.010),(.108,.006),(.085,.022),(.079,.015),(.051,.015),(.058,.015),(.057,.009),(.065,.008),(.068,.016),(.163,.016),
    (.167,.013),(.180,.016),(.196,.005),(.222,.012),(.228,.020),(.232,.016),(.157,.004),(.157,-.003),(.148,-.003),(.122,-.006),(.129,-.008),(.112,-.005),(.187,-.006),(.126,-.015),(.103,-.015),
    (.089,-.013),(.077,-.012),(.095,-.027),(.165,-.022),(.170,-.017),(.174,-.013),(.178,-.022),(.187,-.028),(.146,-.028),(.210,-.009),(.208,-.015),(.215,-.019),(.225,-.008),(.224,-.015),(.225,-.033),
    (.175,-.035),(.169,-.043),(.188,-.041),(.200,-.054),(.187,-.053),(.185,-.061),(.185,-.066),(.192,-.071),(.134,-.055),(.129,-.043),(.168,-.080),(.218,-.081),(.224,-.076),(.219,-.089),(.170,-.101),
    (.197,-.110),(.223,-.113),(.181,-.131),(.218,-.130),(.221,-.155),(.144,-.214),(-.183,.049),(-.182,.039),(-.161,.048),(-.152,.055),(-.149,.038),(-.152,.031),(-.158,.025),(-.146,.018),(-.132,.044),
    (-.126,.033),(-.121,.056),(-.112,.023),(-.112,.020),(-.125,.011),(-.151,.003),(-.164,.006),(-.177,.010),(-.214,.028),(-.210,.022),(-.203,.004),(-.209,-.002),(-.222,-.006),(-.228,.009),(-.082,.040),
    (-.072,.033),(-.067,.036),(-.066,.056),(-.064,.059),(-.049,.051),(-.072,.014),(-.069,.017),(-.054,.015),(-.046,.015),(-.045,.021),(-.020,.019),(-.072,-.002),(-.149,-.020),(-.088,-.021),(-.028,-.010),
    (.013,-.012),(.036,-.020),(.059,-.023),(.050,-.035),(.038,-.041),(.011,-.048),(.029,-.057),(-.028,-.055),(-.010,-.076),(-.006,-.100),(-.104,-.085),(-.073,-.097),(-.049,-.087),(-.139,-.050),(-.159,-.052),
    (-.176,-.035),(-.196,-.057),(-.203,-.063),(-.212,-.055),(-.215,-.028),(-.227,-.077),(-.217,-.087),(-.195,-.095),(-.173,-.097),(-.195,-.108),(-.211,-.110),(-.223,-.109),(-.166,-.119),(-.187,-.125),
    (-.189,-.128),(-.177,-.128),(-.152,-.131),(-.122,-.119),(-.214,-.136),(-.211,-.136),(-.227,-.138),(-.200,-.147),(-.173,-.152),(-.198,-.161),(-.194,-.161),(-.154,-.168),(-.161,-.187),(-.193,-.199),
    (-.206,-.241),(-.207,-.308)]

true_right = [(.565,.154),(.404,.098),(.341,.086),(.326,.076),(.297,.066),(.298,.041),(.277,.035),(.298,.016),(.309,.021),
    (.491,-.150),(.420,-.157),(.421,-.131),(.464,-.132),(.394,-.130),(.361,-.149),(.357,-.136),(.350,-.126),(.315,-.152),(.315,-.146),(.314,-.137),(.319,-.133),(.321,-.126),(.608,-.086),(.578,-.056),
    (.563,-.068),(.489,-.065),(.493,-.065),(.491,-.059),(.485,-.056),(.475,-.080),(.446,-.091),(.457,-.076),(.455,-.060),(.465,-.048),(.465,-.042),(.515,-.005),(.517,.028),(.502,.015),(.499,.045),
    (.461,.043),(.476,.042),(.426,.035),(.435,.013),(.414,.009),(.480,.020),(.410,-.008),(.429,-.008),(.384,-.005),(.358,.026),(.347,.018),(.435,-.025),
    (.456,-.030),(.469,-.029),(.448,-.037),(.454,-.045),(.503,.013),(.531,.009),(.502,-.033),(.389,.071),(.385,.063),(.429,.078),(.431,.067),(.491,.070),
    (.612,-.083),(.578,-.058),(.276,-.118),(.281,-.168),(.320,-.180),(.339,-.185),(.442,-.196),(.428,-.219)]

false_points = false_upper + false_high_band + false_left_edge + false_center + false_lower + false_right


def split_xy(points):
    return [p[0] for p in points], [p[1] for p in points]


def main():
    fig = plt.figure(figsize=(16, 9.6), dpi=300)
    ax = fig.add_axes([469 / 4800, 390 / 2880, 3612 / 4800, 2205 / 2880])
    point_size = 22

    # teal under the pink
    for y_val, row in list(zip(left_teal_y, left_teal_x)) + list(zip(right_teal_y, right_teal_x)):
        ax.scatter(row, [y_val] * len(row), s=point_size, color=true_color, linewidths=0)
    for pts in [true_left_cluster, true_right_cluster]:
        xs, ys = split_xy(pts)
        ax.scatter(xs, ys, s=point_size, color=true_color, linewidths=0)

    # pink blobs and loose points
    for y_val, row in list(zip(left_blob_y, left_blob_x)) + list(zip(right_blob_y, right_blob_x)):
        ax.scatter(row, [y_val] * len(row), s=point_size, color=false_color, linewidths=0)
    xs, ys = split_xy(false_points)
    ax.scatter(xs, ys, s=point_size, color=false_color, linewidths=0)

    # teal on top
    for pts in [true_left, true_center, true_right]:
        xs, ys = split_xy(pts)
        ax.scatter(xs, ys, s=point_size, color=true_color, linewidths=0)

    ax.set_xlim(-0.752, 0.917)
    ax.set_ylim(-0.564, 0.626)
    ax.set_xticks(x_ticks)
    ax.set_yticks(y_ticks)
    ax.set_xticklabels([f'{v:.1f}' for v in x_ticks])
    ax.set_yticklabels([f'{v:.1f}' for v in y_ticks])
    ax.tick_params(length=4, width=1.9, labelsize=24, color='black')
    ax.tick_params(axis='x', pad=8.5)
    ax.tick_params(axis='y', pad=8)

    for side in ['top', 'right']:
        ax.spines[side].set_visible(False)
    for side in ['left', 'bottom']:
        ax.spines[side].set_linewidth(1.9)

    ax.set_xlabel(x_label, fontsize=28, labelpad=7.8)
    ax.set_ylabel(y_label, fontsize=28, labelpad=10)
    ax.set_title(title, fontsize=32, fontweight='bold', pad=20)

    handles = [Line2D([], [], linestyle='none', marker='o', markersize=15.6, markeredgewidth=0, color=c)
               for c in [false_color, true_color]]
    ax.legend(handles, legend_labels, loc='center left', bbox_to_anchor=(4213 / 4800, 1 - 1426 / 2880),
              bbox_transform=fig.transFigure, frameon=False, fontsize=24, handlelength=1,
              handletextpad=0.73, labelspacing=0.33, borderpad=0, borderaxespad=0)

    fig.savefig('out.png', dpi=300)


if __name__ == '__main__':
    main()
